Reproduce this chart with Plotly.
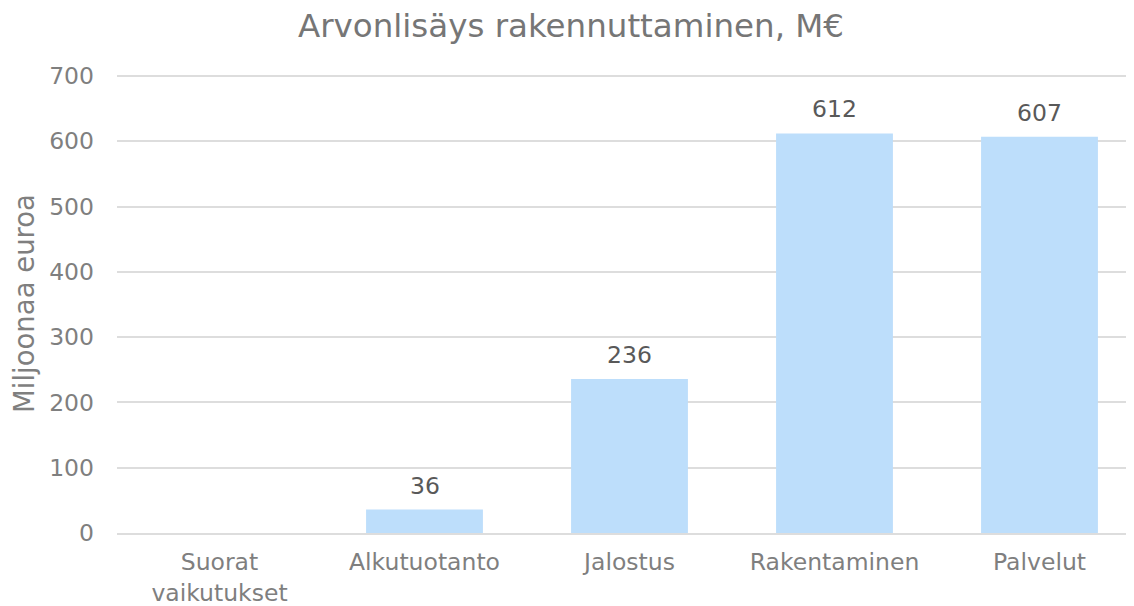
import plotly.graph_objects as go

categories = ["Suorat<br>vaikutukset", "Alkutuotanto", "Jalostus", "Rakentaminen", "Palvelut"]
values = [None, 36, 236, 612, 607]
labels = ["", "36", "236", "612", "607"]
y_ticks = [0, 100, 200, 300, 400, 500, 600, 700]

font_family = "DejaVu Sans, Verdana, sans-serif"

fig = go.Figure(go.Bar(
    x=categories, y=values,
    marker=dict(color="#BDDEFB", line=dict(width=0)),
    hoverinfo="x+y",
))

for c, v, t in zip(categories, values, labels):
    if v is None or not t:
        continue
    fig.add_annotation(
        x=c, y=v, text=t, showarrow=False, yanchor="bottom", yshift=8,
        font=dict(size=23.5, color="#595959", family=font_family),
    )

fig.update_layout(
    width=1126, height=598,
    margin=dict(l=109, r=0, t=66, b=73),
    paper_bgcolor="white", plot_bgcolor="white",
    bargap=0.43,
    showlegend=False,
    title=dict(text="Arvonlisäys rakennuttaminen, M€", x=0.5, xanchor="center",
               xref="container", yref="container", y=0.97, yanchor="middle",
               font=dict(size=32.5, color="#767676", family=font_family)),
    font=dict(family=font_family, color="#7F7F7F"),
)
fig.update_xaxes(
    range=[-0.5, 4.461], automargin=False,
    showgrid=False, showline=True, linecolor="#DDDDDD", linewidth=2,
    ticks="", ticklabelstandoff=7,
    tickfont=dict(size=23.5, color="#7F7F7F", family=font_family),
)
fig.update_yaxes(
    range=[0, 703], tickvals=y_ticks, automargin=False,
    showgrid=True, gridcolor="#DDDDDD", gridwidth=2,
    zeroline=False, showline=False, ticks="", ticklabelstandoff=22,
    tickfont=dict(size=23.5, color="#7F7F7F", family=font_family),
    title=dict(text="Miljoonaa euroa", font=dict(size=27.5, color="#7F7F7F", family=font_family), standoff=14),
)

fig.write_html("out.html")
